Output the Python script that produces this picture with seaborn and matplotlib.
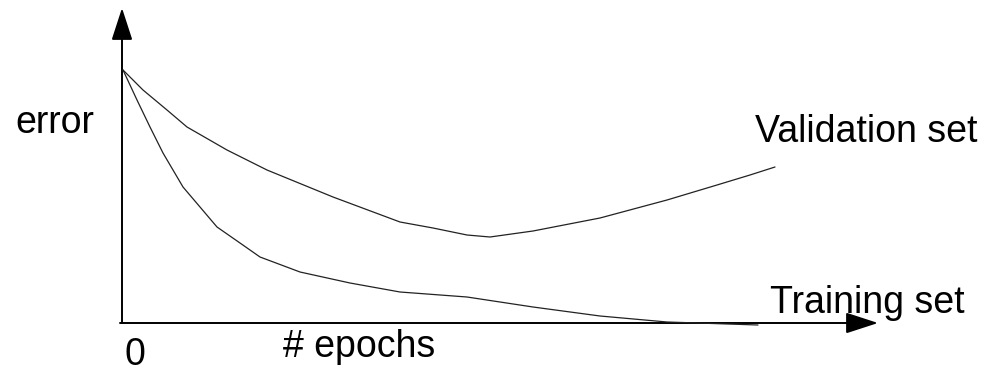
import seaborn as sns
import matplotlib.pyplot as plt
import pandas as pd
from matplotlib.patches import FancyArrowPatch

# curves (epochs, error), arbitrary units
val_epochs = [1, 21, 45, 65, 105, 145, 211, 278, 311, 345, 368, 411, 478, 545, 595, 628, 653]
val_error = [253, 233, 213, 196, 173, 153, 126, 101, 95, 88, 86, 92, 105, 123, 138, 148, 156]

train_epochs = [1, 15, 28, 41, 61, 78, 95, 118, 138, 178, 228, 278, 345, 411, 478, 545, 636]
train_error = [253, 223, 196, 170, 136, 116, 96, 80, 66, 51, 40, 31, 26, 16, 7, 1, -2]

df = pd.concat([
    pd.DataFrame({"epochs": val_epochs, "error": val_error, "set": "Validation set"}),
    pd.DataFrame({"epochs": train_epochs, "error": train_error, "set": "Training set"}),
])

sns.set_style("white")
plt.rcParams["font.family"] = ["Liberation Sans", "DejaVu Sans"]

fig = plt.figure(figsize=(9.89, 3.72), dpi=100)
ax = fig.add_axes([0, 0, 1, 1])

sns.lineplot(data=df, x="epochs", y="error", units="set", estimator=None,
             color="#222222", linewidth=0.9, sort=False, legend=False, ax=ax)

ax.set_xlim(-122, 867)
ax.set_ylim(-49, 323)
ax.axis("off")

# axes with arrow heads
for start, end in [((0, 0), (0, 315)), ((-2, 0), (756, 0))]:
    ax.add_patch(FancyArrowPatch(start, end, arrowstyle="-|>,head_length=2.0,head_width=0.65",
                                 mutation_scale=10, color="black", linewidth=1.4,
                                 shrinkA=0, shrinkB=0))

fs = 27
ax.text(-107, 190, "error", fontsize=fs, va="baseline", color="black")
ax.text(633, 181, "Validation set", fontsize=fs, va="baseline", color="black")
ax.text(648, 10, "Training set", fontsize=fs, va="baseline", color="black")
ax.text(161, -34, "# epochs", fontsize=fs, va="baseline", color="black")
ax.text(2, -42, "0", fontsize=fs, va="baseline", color="black")

fig.savefig("out.png", dpi=100)
